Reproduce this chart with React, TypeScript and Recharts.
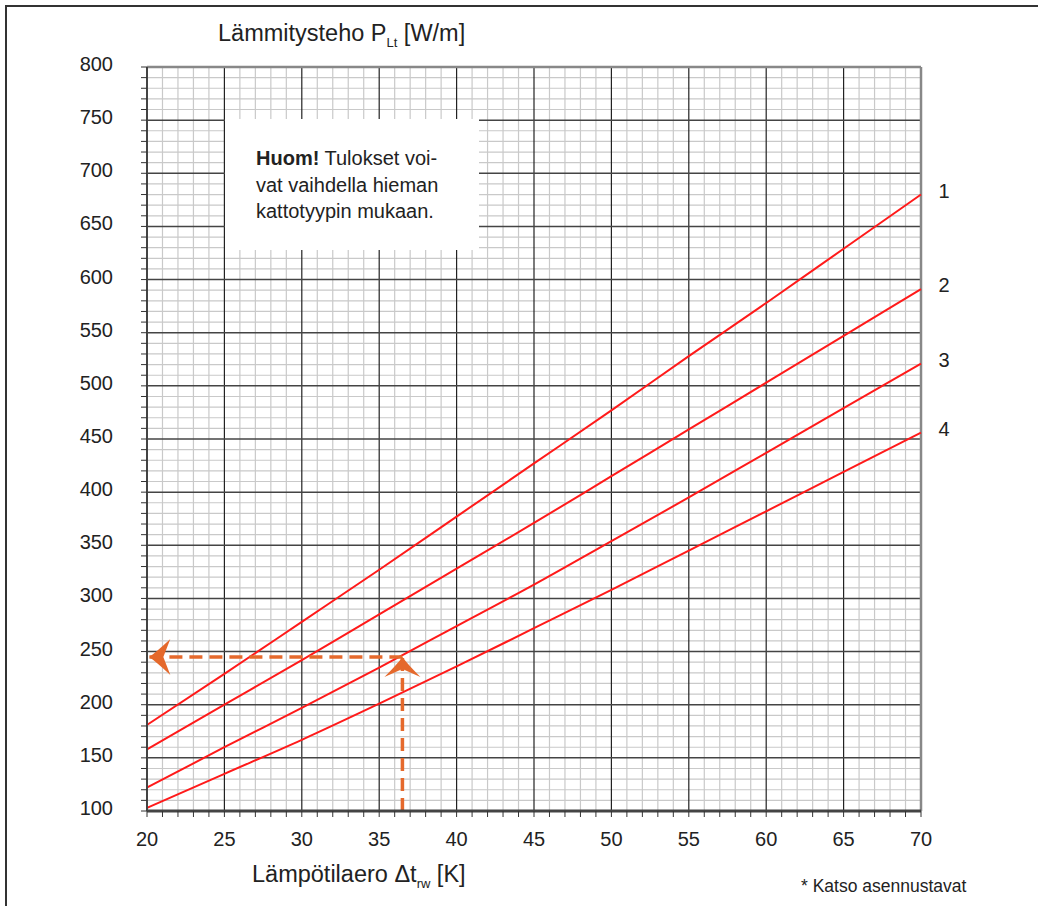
import { LineChart, Line, XAxis, YAxis, ReferenceLine } from "recharts"

// Lämpötilaero Δt (K) and heating power P (W/m) per curve
const deltaT = [20, 25, 30, 35, 40, 45, 50, 55, 60, 65, 70]
const curve1 = [181, 229, 278, 327, 377, 427, 477, 528, 578, 629, 680]
const curve2 = [158, 200, 242, 285, 328, 371, 415, 459, 503, 547, 591]
const curve3 = [122, 160, 197, 235, 274, 313, 354, 395, 437, 479, 521]
const curve4 = [103, 135, 167, 201, 236, 272, 308, 345, 382, 419, 456]
const curveLabels = ["1", "2", "3", "4"]
const curveKeys = ["c1", "c2", "c3", "c4"]

// axis ticks: labelled every 5 K / 50 W/m, minor marks every 1 K / 10 W/m
const xTicks = Array.from({ length: 51 }, (_, i) => 20 + i)
const yTicks = Array.from({ length: 71 }, (_, i) => 100 + i * 10)

// reading example (orange arrows)
const exampleDt = 36.5
const exampleP = 245

const rows = deltaT.map((t, i) => ({ t, c1: curve1[i], c2: curve2[i], c3: curve3[i], c4: curve4[i] }))
const hArrow = [{ t: exampleDt, p: exampleP }, { t: 20.15, p: exampleP }]
const vArrow = [{ t: exampleDt, p: 100 }, { t: exampleDt, p: exampleP }]

const FONT = '"Liberation Sans", Arial, Helvetica, sans-serif'
const TEXT = "#222"
const RED = "#ff1a1a"
const ORANGE = "#e5692c"
const MINOR = "#c9c9c9"

const YTick = ({ x, y, payload }: any) =>
  payload.value % 50 === 0 ? (
    <text x={x} y={y + 4} textAnchor="end" fontSize={20} fill={TEXT} fontFamily={FONT}>
      {payload.value}
    </text>
  ) : (
    <g />
  )

const XTick = ({ x, y, payload }: any) =>
  payload.value % 5 === 0 ? (
    <text x={x} y={y + 25} textAnchor="middle" fontSize={20} fill={TEXT} fontFamily={FONT}>
      {payload.value}
    </text>
  ) : (
    <g />
  )

const leftHead = (p: any) =>
  p.index !== 1 ? (
    <g key={`lh${p.index}`} />
  ) : (
    <path
      key="lh"
      d={`M${p.cx},${p.cy} Q${p.cx + 7},${p.cy - 5} ${p.cx + 21},${p.cy - 18} L${p.cx + 14},${p.cy} L${p.cx + 21},${p.cy + 18} Q${p.cx + 7},${p.cy + 5} ${p.cx},${p.cy} Z`}
      fill={ORANGE}
    />
  )

const upHead = (p: any) =>
  p.index !== 1 ? (
    <g key={`uh${p.index}`} />
  ) : (
    <path
      key="uh"
      d={`M${p.cx},${p.cy} Q${p.cx + 5},${p.cy + 7} ${p.cx + 18},${p.cy + 20} L${p.cx},${p.cy + 12} L${p.cx - 18},${p.cy + 20} Q${p.cx - 5},${p.cy + 7} ${p.cx},${p.cy} Z`}
      fill={ORANGE}
    />
  )

const endLabel = (name: string) => (props: any) =>
  props.index === deltaT.length - 1 ? (
    <text x={props.x + 23} y={props.y + 3} textAnchor="middle" fontSize={20} fill={TEXT} fontFamily={FONT}>
      {name}
    </text>
  ) : (
    <g />
  )

export default function App() {
  return (
    <div style={{ position: "relative", width: 1038, height: 906, background: "#fff", fontFamily: FONT }}>
      <style>{"body{margin:0}"}</style>
      <div style={{ position: "absolute", left: 5, top: 5, right: 0, bottom: 0, borderTop: "2px solid #333", borderLeft: "2px solid #333" }} />

      <LineChart width={1038} height={906} data={rows} margin={{ top: 67, right: 117, bottom: 55, left: 47 }}>
        <XAxis
          type="number"
          dataKey="t"
          domain={[20, 70]}
          ticks={xTicks}
          interval={0}
          height={40}
          tickSize={6}
          tickMargin={4}
          tick={XTick}
          axisLine={{ stroke: "#444", strokeWidth: 3 }}
          tickLine={{ stroke: "#333" }}
        />
        <YAxis
          type="number"
          domain={[100, 800]}
          ticks={yTicks}
          interval={0}
          width={100}
          tickSize={6}
          tickMargin={28}
          tick={YTick}
          allowDataOverflow
          axisLine={{ stroke: "#444", strokeWidth: 2 }}
          tickLine={{ stroke: "#333" }}
        />

        {xTicks.filter((v) => v % 5 !== 0).map((v) => (
          <ReferenceLine key={`xm${v}`} x={v} stroke={MINOR} strokeWidth={1.2} />
        ))}
        {yTicks.filter((v) => v % 50 !== 0).map((v) => (
          <ReferenceLine key={`ym${v}`} y={v} stroke={MINOR} strokeWidth={1.2} />
        ))}
        {xTicks.filter((v) => v % 5 === 0 && v > 20 && v < 70).map((v) => (
          <ReferenceLine key={`xM${v}`} x={v} stroke="#222" strokeWidth={1.2} />
        ))}
        {yTicks.filter((v) => v % 50 === 0 && v > 100 && v < 800).map((v) => (
          <ReferenceLine key={`yM${v}`} y={v} stroke="#444" strokeWidth={1.5} />
        ))}
        <ReferenceLine x={70} stroke="#888" strokeWidth={2.5} />
        <ReferenceLine y={800} stroke="#888" strokeWidth={2.5} />

        {curveKeys.map((k, i) => (
          <Line
            key={k}
            type="monotone"
            dataKey={k}
            stroke={RED}
            strokeWidth={2}
            dot={false}
            activeDot={false}
            isAnimationActive={false}
            label={endLabel(curveLabels[i])}
          />
        ))}

        <Line
          data={hArrow}
          dataKey="p"
          type="linear"
          stroke={ORANGE}
          strokeWidth={3.5}
          strokeDasharray="13 7"
          dot={leftHead}
          activeDot={false}
          isAnimationActive={false}
        />
        <Line
          data={vArrow}
          dataKey="p"
          type="linear"
          stroke={ORANGE}
          strokeWidth={3.5}
          strokeDasharray="13 7"
          dot={upHead}
          activeDot={false}
          isAnimationActive={false}
        />
      </LineChart>

      <div style={{ position: "absolute", left: 218, top: 20, fontSize: 23.5, color: TEXT, whiteSpace: "nowrap" }}>
        Lämmitysteho P<sub style={{ fontSize: 13 }}>Lt</sub> [W/m]
      </div>

      <div
        style={{
          position: "absolute",
          left: 225,
          top: 119,
          width: 254,
          height: 131,
          background: "#fff",
          boxSizing: "border-box",
          padding: "26px 0 0 31px",
          fontSize: 20,
          lineHeight: "26.5px",
          color: TEXT,
        }}
      >
        <b>Huom!</b> Tulokset voi-
        <br />
        vat vaihdella hieman
        <br />
        kattotyypin mukaan.
      </div>

      <div style={{ position: "absolute", left: 252, top: 861, fontSize: 23.5, color: TEXT, whiteSpace: "nowrap" }}>
        Lämpötilaero Δt<sub style={{ fontSize: 13 }}>rw</sub> [K]
      </div>

      <div style={{ position: "absolute", left: 801, top: 876, fontSize: 17.5, color: TEXT, whiteSpace: "nowrap" }}>
        * Katso asennustavat
      </div>
    </div>
  )
}
